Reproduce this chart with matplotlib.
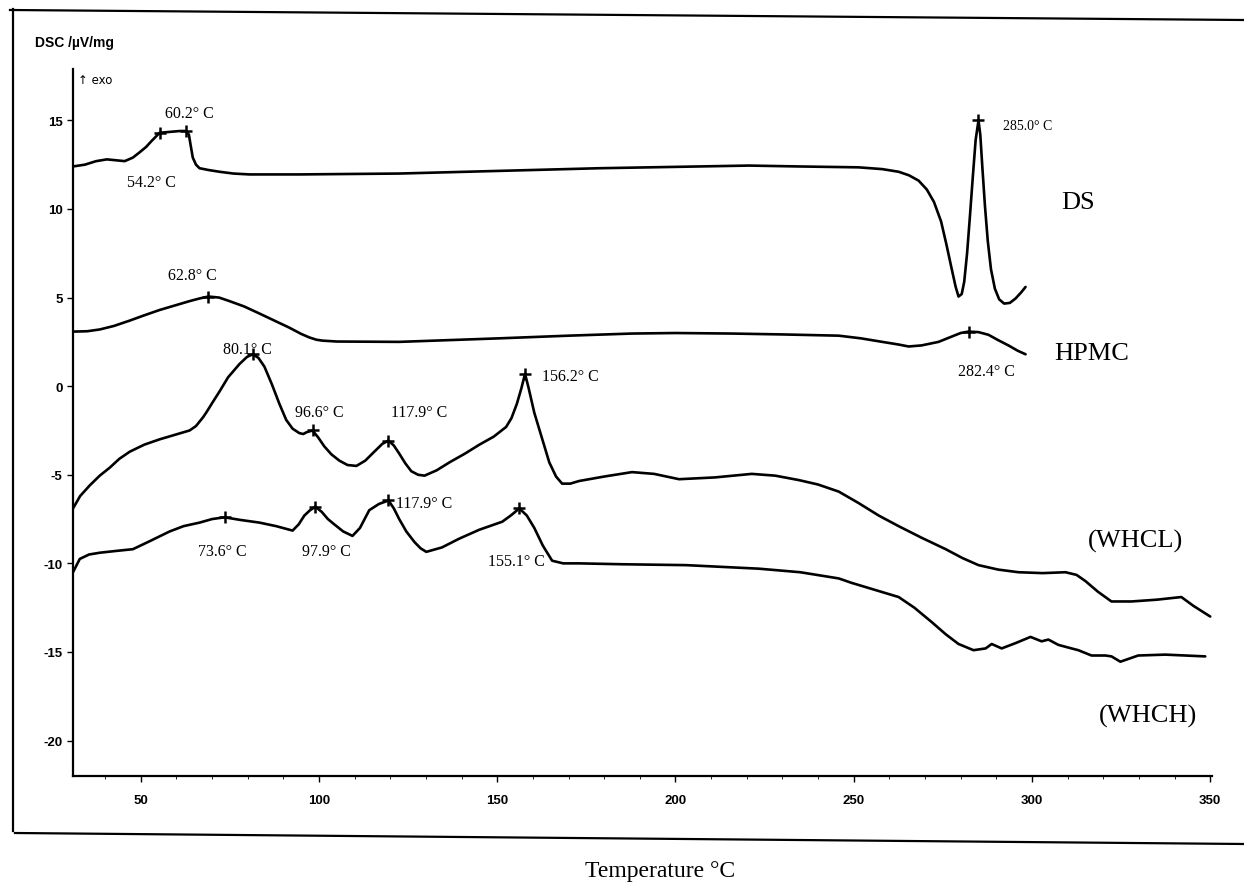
import matplotlib
matplotlib.use('Agg')
import matplotlib.pyplot as plt
from matplotlib.lines import Line2D
from matplotlib.ticker import MultipleLocator

ds_t = [31.0, 34.3, 37.5, 40.5, 43.0, 45.5, 47.8, 49.7, 51.5, 53.1, 55.3, 58.1,
        61.0, 62.6, 63.5, 64.0, 64.6, 65.5, 66.5, 69.0, 72.1, 76.0, 80.5, 94.5,
        122.5, 150.6, 178.6, 220.6, 234.6, 251.4, 258.0, 262.6, 265.5, 268.2,
        270.5, 272.5, 274.5, 276.0, 277.5, 278.6, 279.4, 280.3, 281.0, 281.8,
        282.6, 283.4, 284.2, 285.0, 285.5, 286.1, 286.8, 287.6, 288.5, 289.6,
        290.8, 292.2, 293.8, 295.4, 297.0, 298.2]
ds_y = [12.4, 12.5, 12.7, 12.8, 12.75, 12.7, 12.9, 13.2, 13.5, 13.85, 14.3, 14.35,
        14.4, 14.4, 14.2, 13.6, 12.9, 12.5, 12.3, 12.2, 12.1, 12.0, 11.95, 11.95,
        12.0, 12.15, 12.3, 12.45, 12.4, 12.35, 12.25, 12.1, 11.9, 11.6,
        11.1, 10.4, 9.3, 8.0, 6.6, 5.6, 5.06, 5.2, 5.9, 7.5,
        9.6, 11.8, 13.9, 15.0, 14.2, 12.3, 10.2, 8.2, 6.6, 5.5,
        4.9, 4.66, 4.7, 4.95, 5.3, 5.6]

hpmc_t = [31.0, 35.0, 38.5, 42.5, 46.9, 51.0, 55.3, 59.5, 63.7, 66.5, 69.0, 72.0,
          74.9, 79.0, 83.3, 87.5, 91.7, 95.0, 97.3, 99.3, 101.0, 105.0, 122.5,
          150.6, 170.0, 187.8, 200.0, 215.8, 230.0, 245.8, 252.0, 258.0, 262.6,
          265.4, 269.0, 273.8, 277.5, 280.0, 282.2, 285.0, 287.8, 290.5, 293.4,
          296.0, 298.2]
hpmc_y = [3.08, 3.1, 3.2, 3.4, 3.7, 4.0, 4.3, 4.55, 4.8, 4.95, 5.06, 5.0,
          4.8, 4.5, 4.1, 3.7, 3.3, 2.95, 2.75, 2.62, 2.57, 2.52, 2.5,
          2.7, 2.85, 2.97, 3.0, 2.97, 2.92, 2.85, 2.7, 2.5, 2.35,
          2.24, 2.3, 2.5, 2.8, 3.0, 3.08, 3.05, 2.9, 2.6, 2.3,
          2.0, 1.8]

whcl_t = [31.0, 33.0, 35.7, 38.5, 41.3, 44.0, 46.9, 51.0, 55.3, 59.5, 63.7, 65.5,
          66.5, 67.5, 68.5, 70.2, 72.1, 74.5, 77.7, 79.8, 81.4, 83.0, 84.7, 86.8,
          88.9, 90.8, 92.6, 94.5, 95.6, 96.5, 98.2, 99.8, 101.5, 103.5, 105.7,
          108.0, 110.5, 113.0, 115.5, 117.8, 119.5, 121.0, 122.5, 124.2, 125.9,
          127.8, 129.6, 133.0, 136.6, 141.0, 145.0, 149.0, 152.5, 154.0, 155.5,
          156.8, 157.8, 158.8, 160.4, 162.5, 164.6, 166.5, 168.2, 170.5, 173.0,
          180.0, 187.8, 194.0, 201.0, 211.0, 221.4, 228.0, 234.6, 240.0, 245.8,
          251.4, 257.0, 262.6, 269.0, 275.8, 280.5, 285.0, 290.5, 296.2, 303.0,
          309.4, 312.5, 315.0, 318.5, 322.3, 327.9, 335.0, 341.9, 345.3, 350.0]
whcl_y = [-6.9, -6.2, -5.6, -5.05, -4.6, -4.1, -3.7, -3.3, -3.0, -2.75, -2.5, -2.25,
          -2.0, -1.75, -1.45, -0.9, -0.3, 0.5, 1.25, 1.65, 1.8, 1.6, 1.1, 0.1,
          -1.0, -1.9, -2.4, -2.65, -2.7, -2.6, -2.5, -2.9, -3.4, -3.85, -4.2,
          -4.45, -4.5, -4.2, -3.7, -3.25, -3.07, -3.35, -3.8, -4.35, -4.8,
          -5.0, -5.05, -4.75, -4.3, -3.8, -3.3, -2.85, -2.3, -1.8, -1.0,
          -0.1, 0.7, -0.1, -1.5, -2.9, -4.3, -5.1, -5.5, -5.5, -5.35,
          -5.1, -4.85, -4.95, -5.25, -5.15, -4.95, -5.05, -5.3, -5.55, -5.95,
          -6.6, -7.3, -7.9, -8.55, -9.2, -9.7, -10.1, -10.35, -10.5, -10.55,
          -10.5, -10.65, -11.0, -11.6, -12.15, -12.15, -12.05, -11.9, -12.4, -13.0]

whch_t = [31.0, 32.9, 35.5, 38.5, 43.0, 47.8, 52.5, 58.1, 62.0, 66.5, 70.0, 73.5,
          78.0, 83.3, 88.0, 92.6, 94.3, 95.9, 97.5, 99.0, 100.8, 102.5, 104.3,
          106.8, 109.4, 111.5, 114.1, 116.8, 119.5, 121.0, 122.5, 124.5, 126.8,
          128.5, 130.1, 134.5, 139.4, 145.0, 151.4, 153.8, 156.2, 158.3, 160.4,
          162.8, 165.4, 168.5, 173.0, 185.0, 203.0, 223.4, 235.0, 245.8, 249.4,
          256.0, 262.6, 267.0, 271.8, 275.8, 279.4, 283.6, 287.0, 288.7, 291.5,
          295.4, 299.6, 302.7, 304.6, 307.4, 311.1, 313.0, 316.7, 320.6, 322.3,
          324.8, 329.8, 337.4, 348.6]
whch_y = [-10.5, -9.75, -9.5, -9.4, -9.3, -9.2, -8.75, -8.2, -7.9, -7.7, -7.5, -7.4,
          -7.55, -7.7, -7.9, -8.15, -7.8, -7.3, -7.0, -6.8, -7.1, -7.5, -7.8,
          -8.2, -8.45, -8.0, -7.0, -6.65, -6.45, -6.9, -7.5, -8.2, -8.8,
          -9.15, -9.35, -9.1, -8.6, -8.1, -7.65, -7.3, -6.9, -7.3, -8.0,
          -9.0, -9.85, -10.0, -10.0, -10.05, -10.1, -10.3, -10.5, -10.85, -11.1,
          -11.5, -11.9, -12.5, -13.3, -14.0, -14.55, -14.9, -14.8, -14.55, -14.8,
          -14.5, -14.15, -14.4, -14.3, -14.6, -14.8, -14.9, -15.2, -15.2, -15.25,
          -15.55, -15.2, -15.15, -15.25]

# Picos marcados (+)
picos_t = [55.3, 62.6, 69.0, 282.2, 81.4, 98.2, 119.5, 157.8,
           73.5, 99.0, 119.5, 156.2, 285.0]
picos_y = [14.3, 14.4, 5.06, 3.08, 1.8, -2.5, -3.07, 0.7,
           -7.4, -6.8, -6.45, -6.9, 15.0]

etiquetas = [('60.2° C', 63.7, 15.4, 'center'), ('54.2° C', 53.1, 11.55, 'center'),
             ('62.8° C', 64.6, 6.3, 'center'), ('80.1° C', 80.0, 2.1, 'center'),
             ('96.6° C', 100.1, -1.45, 'center'), ('117.9° C', 128.2, -1.45, 'center'),
             ('156.2° C', 162.6, 0.55, 'left'), ('73.6° C', 73.0, -9.3, 'center'),
             ('97.9° C', 102.1, -9.3, 'center'), ('117.9° C', 121.5, -6.6, 'left'),
             ('155.1° C', 155.3, -9.85, 'center'), ('282.4° C', 287.3, 0.83, 'center')]

muestras = [('DS', 313.0, 10.4), ('HPMC', 316.7, 1.85),
            ('(WHCL)', 329.0, -8.7), ('(WHCH)', 332.6, -18.6)]

W, H = 1244, 887
plt.rcParams['axes.unicode_minus'] = False
fig = plt.figure(figsize=(W / 100, H / 100), dpi=100)
ax = fig.add_axes([73 / W, 1 - 777 / H, (1212 - 73) / W, (777 - 70) / H])

serif = 'Liberation Serif'
sans = 'Liberation Sans'

for t, y in [(ds_t, ds_y), (hpmc_t, hpmc_y), (whcl_t, whcl_y), (whch_t, whch_y)]:
    ax.plot(t, y, color='black', lw=1.9, solid_joinstyle='round', solid_capstyle='round')
ax.plot(picos_t, picos_y, ls='none', marker='+', ms=8, mew=1.8, color='black')

for txt, x, y, ha in etiquetas:
    ax.text(x, y, txt, ha=ha, va='center', fontsize=11.5, family=serif)
ax.text(292.0, 14.7, '285.0° C', ha='left', va='center', fontsize=10, family=serif)

for txt, x, y in muestras:
    ax.text(x, y, txt, ha='center', va='center', fontsize=19, family=serif)

ax.text(32.5, 17.3, '↑ exo', ha='left', va='center', fontsize=8.5, family='DejaVu Sans')

ax.set_xlim(31, 350.5)
ax.set_ylim(-22, 17.9)
ax.set_xticks([50, 100, 150, 200, 250, 300, 350])
ax.set_yticks([15, 10, 5, 0, -5, -10, -15, -20])
ax.xaxis.set_minor_locator(MultipleLocator(10))
for s in ['top', 'right']:
    ax.spines[s].set_visible(False)
for s in ['left', 'bottom']:
    ax.spines[s].set_linewidth(1.6)
ax.tick_params(axis='both', which='major', direction='out', length=4, width=1, labelsize=9.5)
ax.tick_params(axis='x', which='major', pad=9)
ax.tick_params(axis='x', which='minor', direction='out', length=2, width=0.6)
for lab in ax.get_xticklabels() + ax.get_yticklabels():
    lab.set_family(sans)
    lab.set_fontweight('bold')

fig.text(35 / W, 1 - 43 / H, 'DSC /µV/mg', ha='left', va='center', fontsize=10,
         family=sans, fontweight='bold')
fig.text(660 / W, 1 - 872 / H, 'Temperature °C', ha='center', va='center',
         fontsize=17, family=serif)

# Marco exterior del escaneo
def linea(x0, y0, x1, y1, lw=1.6):
    fig.add_artist(Line2D([x0 / W, x1 / W], [1 - y0 / H, 1 - y1 / H],
                          transform=fig.transFigure, color='black', lw=lw))

linea(13, 10, 13, 832)
linea(10, 11, 1244, 21)
linea(15, 834, 1244, 845)

fig.savefig('out.png', dpi=100, facecolor='white')
